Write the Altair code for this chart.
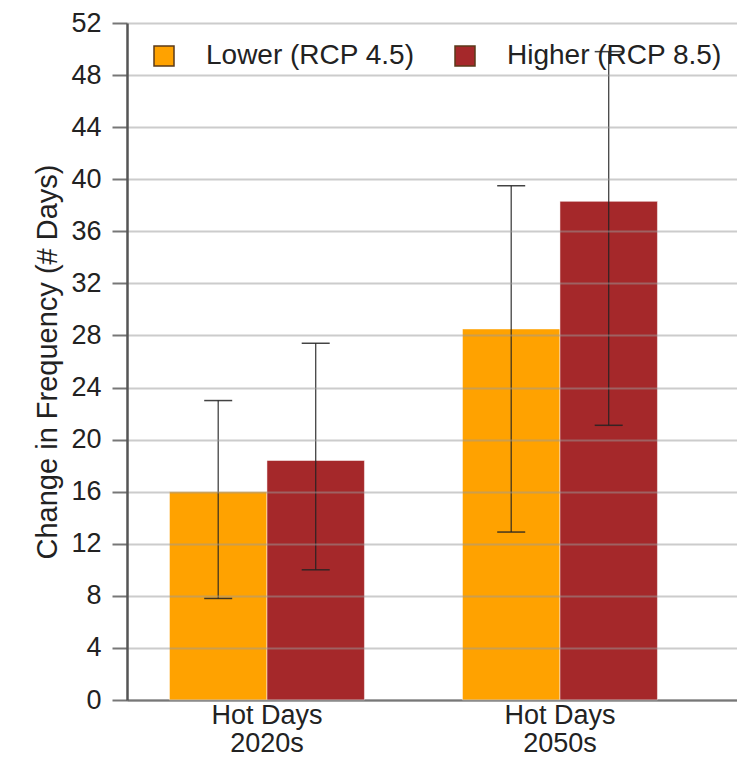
import altair as alt
import pandas as pd

# ---- data ----
metric = "Hot Days"
periods = ["2020s", "2050s"]
scenarios = ["Lower (RCP 4.5)", "Higher (RCP 8.5)"]
lower_mean = [16.0, 28.5]
higher_mean = [18.4, 38.3]
lower_lo = [7.8, 12.9]
lower_hi = [23.0, 39.5]
higher_lo = [10.0, 21.1]
higher_hi = [27.4, 49.8]
colors = ["#FFA200", "#A5282A"]
y_ticks = list(range(0, 53, 4))
y_title = "Change in Frequency (# Days)"

rows = []
for i, p in enumerate(periods):
    rows.append(dict(period=p, scenario=scenarios[0], value=lower_mean[i], lo=lower_lo[i], hi=lower_hi[i]))
    rows.append(dict(period=p, scenario=scenarios[1], value=higher_mean[i], lo=higher_lo[i], hi=higher_hi[i]))
df = pd.DataFrame(rows)

FONT = "Liberation Sans"

x_scale = alt.Scale(paddingInner=0.3345, paddingOuter=0.2082, align=0.348)
x_axis = alt.Axis(
    title=None, labelAngle=0, ticks=False, grid=False,
    labelExpr=f"['{metric}', datum.label]",
    labelFontSize=27, labelFont=FONT, labelColor="#222", labelPadding=2,
    labelLineHeight=28, domainColor="#555", domainWidth=2,
)
xo = alt.XOffset("scenario:N", sort=scenarios, scale=alt.Scale(paddingInner=0, paddingOuter=0))
y_scale = alt.Scale(domain=[0, 52], nice=False, zero=True)
y_axis = alt.Axis(
    values=y_ticks, grid=True, gridColor="#9a9a9a", gridOpacity=0.5, gridWidth=2,
    domainColor="#555", domainWidth=2.5, tickColor="#777", tickWidth=2, tickSize=15,
    labelFontSize=27, labelFont=FONT, labelColor="#222", labelPadding=11,
    titleFontSize=29, titleFont=FONT, titleFontWeight="normal", titleColor="#222",
    titlePadding=8, zindex=1,
)

bars = alt.Chart(df).mark_bar(stroke="white", strokeWidth=1, strokeOpacity=0.5).encode(
    x=alt.X("period:N", sort=periods, scale=x_scale, axis=x_axis),
    xOffset=xo,
    y=alt.Y("value:Q", scale=y_scale, axis=y_axis, title=y_title),
    color=alt.Color(
        "scenario:N", sort=scenarios,
        scale=alt.Scale(domain=scenarios, range=colors),
        legend=alt.Legend(
            title=None, orient="none", legendX=23, legendY=19, direction="horizontal",
            symbolType="square", symbolSize=400, symbolStrokeColor="#5a3a1a",
            symbolStrokeWidth=1.5, symbolOpacity=1,
            labelFontSize=28, labelFont=FONT, labelColor="#222", labelLimit=400,
            labelOffset=28, columnPadding=36, padding=0,
        ),
    ),
)

rules = alt.Chart(df).mark_rule(color="#222", strokeWidth=1.3, opacity=0.85).encode(
    x=alt.X("period:N", sort=periods),
    xOffset=xo,
    y=alt.Y("lo:Q", scale=y_scale, title=y_title),
    y2="hi:Q",
)

caps_lo = alt.Chart(df).mark_tick(color="#222", size=28, thickness=1.5, opacity=0.85, orient="horizontal").encode(
    x=alt.X("period:N", sort=periods),
    xOffset=xo,
    y=alt.Y("lo:Q", scale=y_scale, title=y_title),
)
caps_hi = alt.Chart(df).mark_tick(color="#222", size=28, thickness=1.5, opacity=0.85, orient="horizontal").encode(
    x=alt.X("period:N", sort=periods),
    xOffset=xo,
    y=alt.Y("hi:Q", scale=y_scale, title=y_title),
)

chart = alt.layer(bars, rules, caps_lo, caps_hi).properties(
    width=610, height=677,
    autosize=alt.AutoSizeParams(type="none"),
    padding={"left": 119, "top": 15, "right": 0, "bottom": 56},
    background="white",
).configure_view(stroke=None)

chart.save("out.html", embed_options={"renderer": "svg", "actions": False})
